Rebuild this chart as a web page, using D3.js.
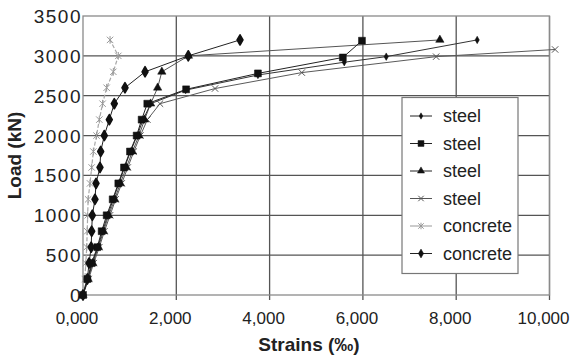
<!DOCTYPE html>
<html>
<head>
<meta charset="utf-8">
<script src="https://cdn.jsdelivr.net/npm/d3@7"></script>
<style>
  body { margin: 0; background: #fff; }
  svg { display: block; font-family: "Liberation Sans", Arial, sans-serif; }
</style>
</head>
<body>
<div id="chart"></div>
<script>
// loads are read every 200 kN along the elastic part, then at the visible markers
var steelDiamondStrain = [0, 100, 200, 320, 420, 530, 650, 770, 890, 1020, 1160, 1290, 1450, 2200, 3750, 5600, 6500, 8450];
var steelDiamondLoad   = [0, 200, 400, 600, 800, 1000, 1200, 1400, 1600, 1800, 2000, 2200, 2400, 2570, 2760, 2920, 2990, 3200];

var steelSquareStrain = [0, 93, 186, 307, 400, 507, 636, 757, 879, 1007, 1150, 1257, 1378, 2210, 3750, 5570, 5980];
var steelSquareLoad   = [0, 200, 400, 600, 800, 1000, 1200, 1400, 1600, 1800, 2000, 2200, 2400, 2580, 2780, 2980, 3190];

var steelTriangleStrain = [0, 110, 210, 330, 440, 550, 680, 800, 930, 1060, 1200, 1320, 1450, 1600, 1690, 2260, 7650];
var steelTriangleLoad   = [0, 200, 400, 600, 800, 1000, 1200, 1400, 1600, 1800, 2000, 2200, 2400, 2600, 2800, 3000, 3200];

var steelCrossStrain = [0, 120, 230, 350, 460, 580, 700, 830, 960, 1090, 1230, 1380, 1650, 2830, 4690, 7570, 10120];
var steelCrossLoad   = [0, 200, 400, 600, 800, 1000, 1200, 1400, 1600, 1800, 2000, 2200, 2400, 2590, 2790, 2990, 3080];

var concreteStarStrain = [0, 40, 60, 80, 90, 100, 110, 150, 186, 222, 290, 350, 420, 507, 650, 757, 580];
var concreteStarLoad   = [0, 200, 400, 600, 800, 1000, 1200, 1400, 1600, 1800, 2000, 2200, 2400, 2600, 2800, 3000, 3200];

var concreteDiamondStrain = [0, 93, 130, 175, 186, 200, 257, 279, 364, 379, 457, 564, 671, 900, 1330, 2257, 3366];
var concreteDiamondLoad   = [0, 200, 400, 600, 800, 1000, 1200, 1400, 1600, 1800, 2000, 2200, 2400, 2600, 2800, 3000, 3200];

var xTicks = [0, 2000, 4000, 6000, 8000, 10000];
var yTicks = [0, 500, 1000, 1500, 2000, 2500, 3000, 3500];
var legendLabels = ["steel", "steel", "steel", "steel", "concrete", "concrete"];

var width = 572, height = 362;
var margin = {top: 16, right: 22.5, bottom: 67, left: 83};

var svg = d3.select("#chart").append("svg")
    .attr("width", width)
    .attr("height", height);

var x = d3.scaleLinear().domain([0, 10000]).range([margin.left, width - margin.right]);
var y = d3.scaleLinear().domain([0, 3500]).range([height - margin.bottom, margin.top]);

// gridlines
svg.append("g").selectAll("line.v")
    .data(xTicks.slice(1))
    .enter().append("line")
    .attr("x1", function(d) { return x(d); })
    .attr("x2", function(d) { return x(d); })
    .attr("y1", y(3500))
    .attr("y2", y(0) + 5)
    .attr("stroke", "#555")
    .attr("stroke-width", 1.3);

svg.append("g").selectAll("line.h")
    .data(yTicks.slice(1, -1))
    .enter().append("line")
    .attr("x1", x(0))
    .attr("x2", x(10000))
    .attr("y1", function(d) { return y(d); })
    .attr("y2", function(d) { return y(d); })
    .attr("stroke", "#555")
    .attr("stroke-width", 1.3);

// plot frame
svg.append("rect")
    .attr("x", x(0))
    .attr("y", y(3500))
    .attr("width", x(10000) - x(0))
    .attr("height", y(0) - y(3500))
    .attr("fill", "none")
    .attr("stroke", "#8a8a8a")
    .attr("stroke-width", 1.3);

// tick labels (european decimal comma)
var fmt = d3.format(".3f");
svg.append("g").selectAll("text")
    .data(xTicks)
    .enter().append("text")
    .attr("x", function(d) { return x(d) - 6; })
    .attr("y", y(0) + 29)
    .attr("text-anchor", "middle")
    .attr("font-size", 17)
    .attr("fill", "#222")
    .text(function(d) { return fmt(d / 1000).replace(".", ","); });

svg.append("g").selectAll("text")
    .data(yTicks)
    .enter().append("text")
    .attr("x", x(0) - 1)
    .attr("y", function(d) { return y(d) + 7; })
    .attr("text-anchor", "end")
    .attr("font-size", 19)
    .attr("letter-spacing", 1.5)
    .attr("fill", "#222")
    .text(function(d) { return d; });

// axis titles
svg.append("text")
    .attr("x", 309)
    .attr("y", 351)
    .attr("text-anchor", "middle")
    .attr("font-size", 19)
    .attr("font-weight", "bold")
    .attr("fill", "#222")
    .text("Strains (‰)");

svg.append("text")
    .attr("transform", "translate(21," + ((y(0) + y(3500)) / 2) + ") rotate(-90)")
    .attr("text-anchor", "middle")
    .attr("font-size", 19)
    .attr("font-weight", "bold")
    .attr("fill", "#222")
    .text("Load (kN)");

// marker drawing helper
function drawMarker(g, type, cx, cy, scale) {
    var k = scale || 1;
    if (type === "x" || type === "star") {
        var r = 3.2 * k;
        var col = type === "x" ? "#555" : "#999";
        g.append("path")
            .attr("d", "M" + (cx - r) + "," + (cy - r) + "L" + (cx + r) + "," + (cy + r) +
                       "M" + (cx - r) + "," + (cy + r) + "L" + (cx + r) + "," + (cy - r) +
                       (type === "star" ? "M" + cx + "," + (cy - r * 1.2) + "L" + cx + "," + (cy + r * 1.2) : ""))
            .attr("stroke", col)
            .attr("stroke-width", 1)
            .attr("fill", "none");
        return;
    }
    var sym = {diamond: d3.symbolDiamond, square: d3.symbolSquare, triangle: d3.symbolTriangle, bigdiamond: d3.symbolDiamond}[type];
    var size = {diamond: 16, square: 48, triangle: 30, bigdiamond: 30}[type] * k * k;
    g.append("path")
        .attr("d", d3.symbol().type(sym).size(size)())
        .attr("transform", "translate(" + cx + "," + cy + ")")
        .attr("fill", "#111")
        .attr("stroke", "#111")
        .attr("stroke-width", type === "bigdiamond" ? 1.6 : 0.5)
        .attr("stroke-linejoin", "round");
}

var series = [
    {strain: concreteStarStrain, load: concreteStarLoad, marker: "star", color: "#a8a8a8", dash: "4,2", w: 1.2},
    {strain: steelCrossStrain, load: steelCrossLoad, marker: "x", color: "#5a5a5a", dash: null, w: 1},
    {strain: steelTriangleStrain, load: steelTriangleLoad, marker: "triangle", color: "#555", dash: null, w: 1},
    {strain: steelDiamondStrain, load: steelDiamondLoad, marker: "diamond", color: "#333", dash: null, w: 1},
    {strain: steelSquareStrain, load: steelSquareLoad, marker: "square", color: "#222", dash: null, w: 1},
    {strain: concreteDiamondStrain, load: concreteDiamondLoad, marker: "bigdiamond", color: "#222", dash: null, w: 1}
];

var line = d3.line()
    .x(function(d) { return x(d[0]); })
    .y(function(d) { return y(d[1]); });

series.forEach(function(s) {
    var pts = s.strain.map(function(v, i) { return [v, s.load[i]]; });
    svg.append("path")
        .datum(pts)
        .attr("d", line)
        .attr("fill", "none")
        .attr("stroke", s.color)
        .attr("stroke-width", s.w)
        .attr("stroke-dasharray", s.dash);
    var g = svg.append("g");
    pts.forEach(function(p) { drawMarker(g, s.marker, x(p[0]), y(p[1])); });
});

// legend
var legend = svg.append("g");
legend.append("rect")
    .attr("x", 402)
    .attr("y", 97.5)
    .attr("width", 116)
    .attr("height", 176)
    .attr("fill", "#fff")
    .attr("stroke", "#777")
    .attr("stroke-width", 1.2);

var legendMarkers = ["diamond", "square", "triangle", "x", "star", "diamond"];
var legendColors = ["#222", "#222", "#222", "#555", "#999", "#222"];

legendLabels.forEach(function(label, i) {
    var ly = 116 + i * 27.5;
    legend.append("line")
        .attr("x1", 410).attr("x2", 432)
        .attr("y1", ly).attr("y2", ly)
        .attr("stroke", legendColors[i])
        .attr("stroke-width", 1);
    drawMarker(legend, legendMarkers[i], 421, ly, i === 5 ? 1.2 : 0.85);
    legend.append("text")
        .attr("x", 443)
        .attr("y", ly + 6)
        .attr("font-size", 18)
        .attr("fill", "#222")
        .text(label);
});
</script>
</body>
</html>
